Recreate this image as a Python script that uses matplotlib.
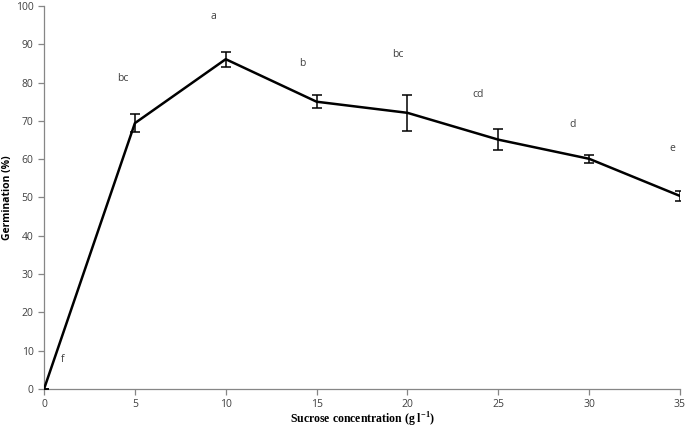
import numpy as np
import matplotlib.pyplot as plt

sucrose = [0, 5, 10, 15, 20, 25, 30, 35]
germination = [0, 69.4, 86.1, 75.0, 72.1, 65.1, 60.1, 50.4]
err = [0, 2.4, 2.0, 1.7, 4.7, 2.8, 1.1, 1.4]

letters = ['f', 'bc', 'a', 'b', 'bc', 'cd', 'd', 'e']
letter_x = [1.03, 4.35, 9.3, 14.2, 19.45, 23.9, 29.1, 34.6]
letter_y = [7.6, 81.0, 97.2, 84.9, 87.4, 76.9, 69.1, 62.8]

fig = plt.figure(figsize=(6.89, 4.28), dpi=100)
ax = fig.add_axes([0.0639, 0.0911, 0.923, 0.895])

ax.errorbar(sucrose, germination, yerr=err, color='black', lw=1.8,
            elinewidth=1.1, capsize=3.5, capthick=1.1, zorder=3)

for t, x, y in zip(letters, letter_x, letter_y):
    ax.text(x, y, t, ha='center', va='center', fontsize=7.5, color='#404040',
            family='Open Sans')

ax.set_xlim(0, 35)
ax.set_ylim(0, 100)
ax.set_xticks(np.arange(0, 36, 5))
ax.set_yticks(np.arange(0, 101, 10))

for s in ['top', 'right']:
    ax.spines[s].set_visible(False)
for s in ['left', 'bottom']:
    ax.spines[s].set_color('#868686')
    ax.spines[s].set_linewidth(0.9)

ax.tick_params(axis='both', direction='out', length=4, width=0.9,
               color='#868686', labelsize=7.5, labelcolor='#404040')
ax.tick_params(axis='x', pad=3.5)
for lab in ax.get_xticklabels() + ax.get_yticklabels():
    lab.set_family('Open Sans')

ax.set_xlabel('Sucrose concentration (g l$^{\\mathregular{-1}}$)', family='Liberation Serif',
              fontweight='bold', fontsize=8.5, labelpad=0)
ax.set_ylabel('Germination (%)', family='Open Sans',
              fontweight='bold', fontsize=7.5, labelpad=2)

fig.savefig('out.png', dpi=100)
